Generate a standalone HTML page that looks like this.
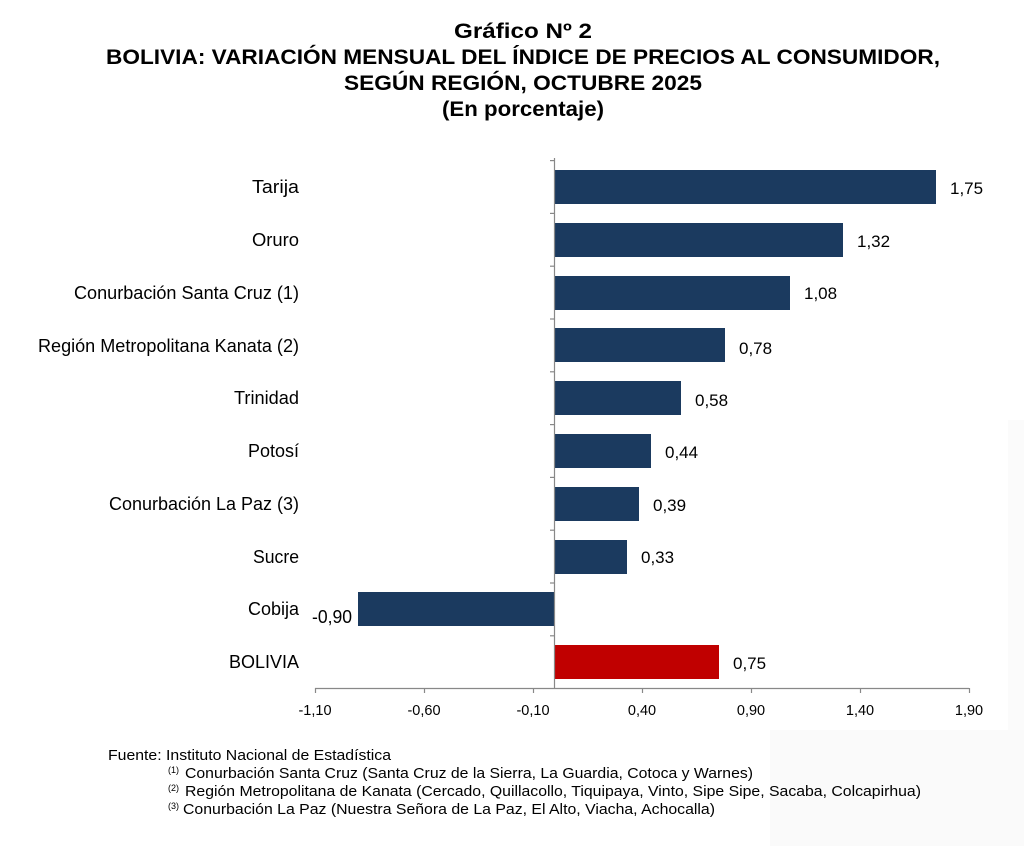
<!DOCTYPE html>
<html><head><meta charset="utf-8"><style>
body{margin:0;background:#fff;width:1024px;height:846px;overflow:hidden}
</style></head><body>
<svg width="1024" height="846" xmlns="http://www.w3.org/2000/svg" font-family="Liberation Sans, Arial, sans-serif">
<rect x="770" y="730" width="254" height="116" fill="#fafafa"/>
<rect x="1008" y="420" width="16" height="310" fill="#fbfbfb"/>
<g font-weight="bold" font-size="21" text-anchor="middle" fill="#000">
<text x="523" y="38" textLength="138" lengthAdjust="spacingAndGlyphs">Gráfico Nº 2</text>
<text x="523" y="64" textLength="834" lengthAdjust="spacingAndGlyphs">BOLIVIA: VARIACIÓN MENSUAL DEL ÍNDICE DE PRECIOS AL CONSUMIDOR,</text>
<text x="523" y="90" textLength="358" lengthAdjust="spacingAndGlyphs">SEGÚN REGIÓN, OCTUBRE 2025</text>
<text x="523" y="116" textLength="162" lengthAdjust="spacingAndGlyphs">(En porcentaje)</text>
</g>
<g fill="#1b3a5f">
<rect x="555" y="170" width="381" height="34"/>
<rect x="555" y="223" width="288" height="34"/>
<rect x="555" y="276" width="235" height="34"/>
<rect x="555" y="328" width="170" height="34"/>
<rect x="555" y="381" width="126" height="34"/>
<rect x="555" y="434" width="96" height="34"/>
<rect x="555" y="487" width="84" height="34"/>
<rect x="555" y="540" width="72" height="34"/>
<rect x="358" y="592" width="196" height="34"/>
</g>
<rect x="555" y="645" width="164" height="34" fill="#c00000"/>
<g stroke="#888" stroke-width="1.2">
<line x1="554.5" y1="158" x2="554.5" y2="688"/>
<line x1="315" y1="688.5" x2="969" y2="688.5"/>
<line x1="550" y1="160.6" x2="554" y2="160.6"/><line x1="550" y1="213.4" x2="554" y2="213.4"/>
<line x1="550" y1="266.2" x2="554" y2="266.2"/><line x1="550" y1="319" x2="554" y2="319"/>
<line x1="550" y1="371.8" x2="554" y2="371.8"/><line x1="550" y1="424.6" x2="554" y2="424.6"/>
<line x1="550" y1="477.4" x2="554" y2="477.4"/><line x1="550" y1="530.2" x2="554" y2="530.2"/>
<line x1="550" y1="583" x2="554" y2="583"/><line x1="550" y1="635.8" x2="554" y2="635.8"/>
<line x1="315.5" y1="688" x2="315.5" y2="693"/><line x1="424.5" y1="688" x2="424.5" y2="693"/>
<line x1="533.5" y1="688" x2="533.5" y2="693"/><line x1="642.5" y1="688" x2="642.5" y2="693"/>
<line x1="751.5" y1="688" x2="751.5" y2="693"/><line x1="860.5" y1="688" x2="860.5" y2="693"/>
<line x1="969.5" y1="688" x2="969.5" y2="693"/>
</g>
<g font-size="18" text-anchor="end" fill="#000">
<text x="299" y="193" textLength="47" lengthAdjust="spacingAndGlyphs">Tarija</text>
<text x="299" y="246" textLength="47" lengthAdjust="spacingAndGlyphs">Oruro</text>
<text x="299" y="299" textLength="225" lengthAdjust="spacingAndGlyphs">Conurbación Santa Cruz (1)</text>
<text x="299" y="352" textLength="261" lengthAdjust="spacingAndGlyphs">Región Metropolitana Kanata (2)</text>
<text x="299" y="404" textLength="65" lengthAdjust="spacingAndGlyphs">Trinidad</text>
<text x="299" y="457" textLength="51" lengthAdjust="spacingAndGlyphs">Potosí</text>
<text x="299" y="510" textLength="190" lengthAdjust="spacingAndGlyphs">Conurbación La Paz (3)</text>
<text x="299" y="563" textLength="46" lengthAdjust="spacingAndGlyphs">Sucre</text>
<text x="299" y="615" textLength="51" lengthAdjust="spacingAndGlyphs">Cobija</text>
<text x="299" y="668" textLength="70" lengthAdjust="spacingAndGlyphs">BOLIVIA</text>
<text x="352" y="623" textLength="40" lengthAdjust="spacingAndGlyphs">-0,90</text>
</g>
<g font-size="17" fill="#000">
<text x="950" y="194">1,75</text>
<text x="857" y="247">1,32</text>
<text x="804" y="299">1,08</text>
<text x="739" y="354">0,78</text>
<text x="695" y="406">0,58</text>
<text x="665" y="458">0,44</text>
<text x="653" y="511">0,39</text>
<text x="641" y="563">0,33</text>
<text x="733" y="669">0,75</text>
</g>
<g font-size="14.5" text-anchor="middle" fill="#000">
<text x="315" y="715">-1,10</text><text x="424" y="715">-0,60</text><text x="533" y="715">-0,10</text>
<text x="642" y="715">0,40</text><text x="751" y="715">0,90</text><text x="860" y="715">1,40</text><text x="969" y="715">1,90</text>
</g>
<g font-size="15" fill="#000">
<text x="108" y="760" textLength="283" lengthAdjust="spacingAndGlyphs">Fuente: Instituto Nacional de Estadística</text>
<text x="168" y="773" font-size="9">(1)</text>
<text x="185" y="778" textLength="568" lengthAdjust="spacingAndGlyphs">Conurbación Santa Cruz (Santa Cruz de la Sierra, La Guardia, Cotoca y Warnes)</text>
<text x="168" y="791" font-size="9">(2)</text>
<text x="185" y="796" textLength="736" lengthAdjust="spacingAndGlyphs">Región Metropolitana de Kanata (Cercado, Quillacollo, Tiquipaya, Vinto, Sipe Sipe, Sacaba, Colcapirhua)</text>
<text x="168" y="809" font-size="9">(3)</text>
<text x="183" y="814" textLength="532" lengthAdjust="spacingAndGlyphs">Conurbación La Paz (Nuestra Señora de La Paz, El Alto, Viacha, Achocalla)</text>
</g>
</svg>
</body></html>
